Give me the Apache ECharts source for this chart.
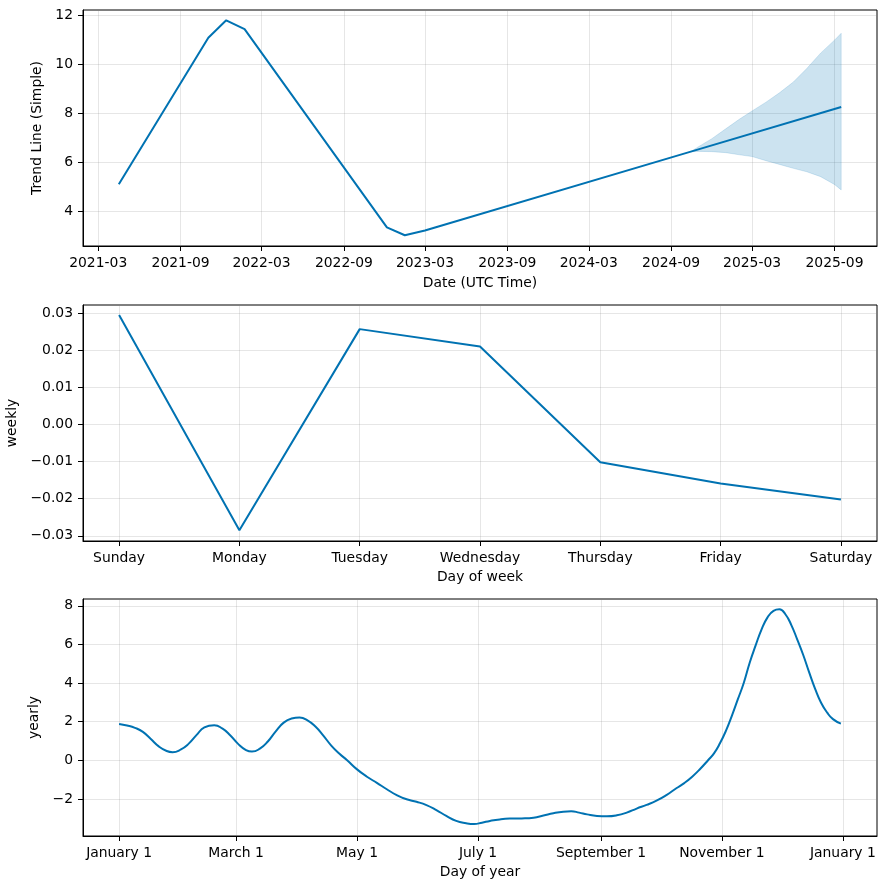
<!DOCTYPE html>
<html><head><meta charset="utf-8">
<script src="https://cdn.jsdelivr.net/npm/echarts@6/dist/echarts.min.js"></script>
<style>html,body{margin:0;padding:0;background:#fff}#c{width:886px;height:889px}</style>
</head><body><div id="c"></div>
<script>
// ---- Panel 1: trend ----
const trendDates = ['2021-04-16','2021-11-02','2021-12-12','2022-01-22','2022-12-06','2023-01-15','2023-03-01','2024-10-15','2025-09-16'];
const trendValues = [5.09,11.07,11.78,11.42,3.33,3.01,3.20,6.42,8.24];
const bandDates = ['2024-10-15','2024-11-01','2024-12-01','2025-01-01','2025-02-01','2025-03-01','2025-04-01','2025-05-01','2025-06-01','2025-07-01','2025-08-01','2025-09-01','2025-09-16'];
const bandUpper = [6.42,6.62,6.95,7.35,7.75,8.08,8.44,8.82,9.26,9.81,10.44,10.97,11.25];
const bandLower = [6.42,6.43,6.42,6.38,6.29,6.22,6.05,5.90,5.74,5.60,5.40,5.08,4.86];
const trendXTicks = ['2021-03-01','2021-09-01','2022-03-01','2022-09-01','2023-03-01','2023-09-01','2024-03-01','2024-09-01','2025-03-01','2025-09-01'];
const trendYTicks = [4,6,8,10,12];

// ---- Panel 2: weekly ----
const weekDays = ['Sunday','Monday','Tuesday','Wednesday','Thursday','Friday','Saturday'];
const weeklyValues = [0.0295,-0.0285,0.0257,0.0210,-0.0102,-0.0159,-0.0202];
const weeklyYTicks = [-0.03,-0.02,-0.01,0,0.01,0.02,0.03];

// ---- Panel 3: yearly ----
const yearDays = [0,4,8,12,16,20,24,27,31,35,39,43,48,52,56,60,64,67,71,75,79,83,87,91,95,99,103,107,111,115,120,125,130,135,140,145,150,155,160,165,170,175,179,183,187,192,197,203,209,214,219,224,228,232,236,241,246,251,256,261,266,271,276,281,285,289,293,297,300,303,306,309,312,315,318,321,324,327,330,333,336,339,342,345,348,351,354,357,360,364];
const yearlyValues = [1.88,1.80,1.68,1.47,1.10,0.72,0.48,0.42,0.55,0.85,1.30,1.70,1.81,1.65,1.30,0.85,0.53,0.45,0.60,0.97,1.50,1.95,2.16,2.21,2.07,1.75,1.28,0.76,0.35,0.00,-0.47,-0.85,-1.17,-1.50,-1.80,-2.02,-2.15,-2.32,-2.58,-2.88,-3.14,-3.26,-3.30,-3.23,-3.14,-3.06,-3.02,-3.01,-2.97,-2.86,-2.74,-2.66,-2.64,-2.71,-2.80,-2.88,-2.90,-2.85,-2.71,-2.50,-2.31,-2.09,-1.80,-1.45,-1.18,-0.85,-0.45,0.00,0.36,0.88,1.52,2.30,3.15,4.00,5.05,5.95,6.78,7.40,7.74,7.82,7.56,7.00,6.25,5.45,4.55,3.70,2.98,2.48,2.13,1.90];
const yearTickDays = [0,59,120,181,243,304,365];
const yearTickLabels = ['January 1','March 1','May 1','July 1','September 1','November 1','January 1'];
const yearlyYTicks = [-2,0,2,4,6,8];

const FONT = 'DejaVu Sans';
const FS = 13.9;
const LINE = '#0072B2';
const GRIDC = 'rgba(128,128,128,0.2)';
const ts = s => Date.parse(s + 'T00:00:00Z');
const minus = s => String(s).replace('-', '\u2212');

function axisCommon(extra) {
  return Object.assign({
    axisLine: {show: true, onZero: false, lineStyle: {color: '#000', width: 1}},
    axisTick: {show: true, inside: false, length: 5, lineStyle: {color: '#000', width: 1}},
    axisLabel: {color: '#000', fontFamily: FONT, fontSize: FS, margin: 10},
    splitLine: {show: true, lineStyle: {color: GRIDC, width: 1}},
    nameLocation: 'middle',
    nameTextStyle: {color: '#000', fontFamily: FONT, fontSize: FS}
  }, extra);
}
function withCustom(ax, vals, fmt) {
  ax.axisTick = Object.assign({}, ax.axisTick, {customValues: vals});
  ax.axisLabel = Object.assign({}, ax.axisLabel, {customValues: vals, formatter: fmt});
  ax.splitLine = Object.assign({}, ax.splitLine, {customValues: vals});
  return ax;
}

const chart = echarts.init(document.getElementById('c'), null, {renderer: 'canvas'});

const gridBase = {show: true, borderColor: '#000', borderWidth: 1, backgroundColor: 'transparent', left: 83, right: 9, containLabel: false, outerBoundsMode: 'none'};

const x0 = withCustom(axisCommon({type: 'value', gridIndex: 0, min: ts('2021-01-26'), max: ts('2025-12-05'), name: 'Date (UTC Time)', nameGap: 30}),
  trendXTicks.map(ts), v => { const d = new Date(v); return d.getUTCFullYear() + '-' + String(d.getUTCMonth() + 1).padStart(2, '0'); });
const y0 = withCustom(axisCommon({type: 'value', gridIndex: 0, min: 2.57, max: 12.2, name: 'Trend Line (Simple)', nameGap: 34}),
  trendYTicks, v => minus(v));
const x1 = withCustom(axisCommon({type: 'value', gridIndex: 1, min: -0.3, max: 6.3, name: 'Day of week', nameGap: 29}),
  weekDays.map((d, i) => i), v => weekDays[Math.round(v)]);
const y1 = withCustom(axisCommon({type: 'value', gridIndex: 1, min: -0.0314, max: 0.0322, name: 'weekly', nameGap: 53}),
  weeklyYTicks, v => minus(v.toFixed(2)));
const x2 = withCustom(axisCommon({type: 'value', gridIndex: 2, min: -18.2, max: 382.2, name: 'Day of year', nameGap: 29}),
  yearTickDays, v => yearTickLabels[yearTickDays.indexOf(v)]);
const y2 = withCustom(axisCommon({type: 'value', gridIndex: 2, min: -3.92, max: 8.35, name: 'yearly', nameGap: 36}),
  yearlyYTicks, v => minus(v));

const option = {
  animation: false,
  backgroundColor: '#fff',
  grid: [
    Object.assign({}, gridBase, {top: 10, height: 236}),
    Object.assign({}, gridBase, {top: 305, height: 236}),
    Object.assign({}, gridBase, {top: 599, height: 237})
  ],
  xAxis: [x0, x1, x2],
  yAxis: [y0, y1, y2],
  series: [
    {type: 'custom', xAxisIndex: 0, yAxisIndex: 0, silent: true, z: 1,
     data: bandDates.map((d, i) => [ts(d), bandUpper[i], bandLower[i]]),
     encode: {x: 0, y: [1, 2]},
     renderItem: function (params, api) {
       if (params.dataIndex !== 0) return null;
       const up = bandDates.map((d, i) => api.coord([ts(d), bandUpper[i]]));
       const lo = bandDates.map((d, i) => api.coord([ts(d), bandLower[i]])).reverse();
       return {type: 'polygon', shape: {points: up.concat(lo)},
               style: {fill: 'rgba(0,114,178,0.2)', stroke: 'rgba(0,114,178,0.15)', lineWidth: 1}};
     }},
    {type: 'line', xAxisIndex: 0, yAxisIndex: 0, symbol: 'none', z: 5,
     lineStyle: {color: LINE, width: 2}, data: trendDates.map((d, i) => [ts(d), trendValues[i]])},
    {type: 'line', xAxisIndex: 1, yAxisIndex: 1, symbol: 'none',
     lineStyle: {color: LINE, width: 2}, data: weekDays.map((d, i) => [i, weeklyValues[i]])},
    {type: 'line', xAxisIndex: 2, yAxisIndex: 2, symbol: 'none', smooth: 0.5,
     lineStyle: {color: LINE, width: 2}, data: yearDays.map((d, i) => [d, yearlyValues[i]])}
  ]
};
chart.setOption(option);
</script>
</body></html>
